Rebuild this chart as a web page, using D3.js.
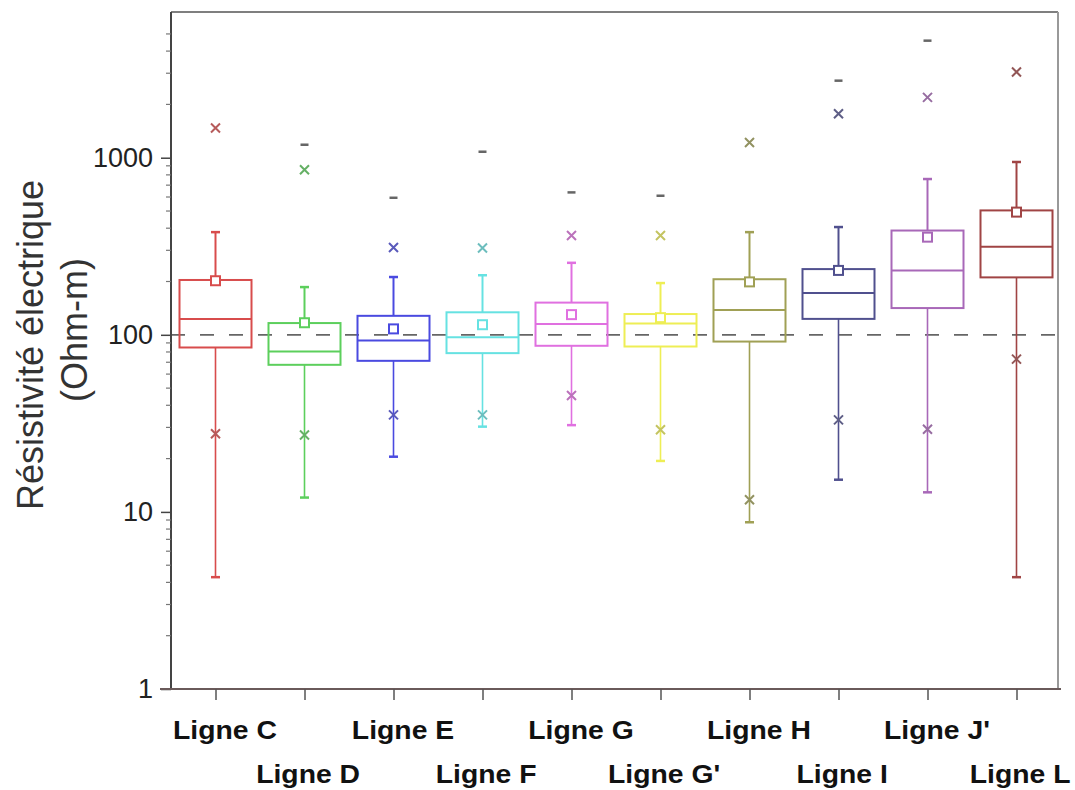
<!DOCTYPE html>
<html><head><meta charset="utf-8">
<script src="https://cdn.jsdelivr.net/npm/d3@7"></script>
<style>body{margin:0;background:#fff}svg{display:block}</style>
</head><body>
<script>
const categories = ["Ligne C","Ligne D","Ligne E","Ligne F","Ligne G","Ligne G'","Ligne H","Ligne I","Ligne J'","Ligne L"];
const colors = ["#d84c4c","#5ccf5c","#4a4ae0","#66e2e2","#e070e0","#eeee55","#a0a055","#50508e","#a868b8","#a04444"];
const maxVals = [null,1184,594,1081,637,610,null,2723,4581,null];
const upperX = [1472,856,311,309,364,364,1220,1773,2191,3049];
const upperCap = [380,186,212,217,255,196,380,406,758,946];
const q3 = [204,116.5,128,134,152,131,206,235,388,504];
const median = [123,80.5,93,97,115,116,138,172,231,314];
const q1 = [84.8,67.7,71.3,78.8,86.7,85.9,91.6,123,141.6,211];
const means = [202,117,108,114,130,125,199,231,356,493];
const lowerX = [27.6,27.2,35.3,35.3,45.4,29.1,11.7,33.1,29.3,72.9];
const lowerCap = [4.28,12.05,20.5,30.3,30.9,19.4,8.74,15.2,12.9,4.28];
const majorTicks = [1,10,100,1000];
const refValue = 100;
const yTitle = ["Résistivité électrique","(Ohm-m)"];

const W=1075,H=790;
const L=171,R=1061,T=12,B=689;
const svg=d3.select("body").append("svg").attr("width",W).attr("height",H);
const x=d3.scalePoint().domain(categories).range([L,R]).padding(0.5);
const y=d3.scaleLog().domain([1,6650]).range([B,T]);
const data=categories.map((c,i)=>({c,i,col:colors[i],max:maxVals[i],ux:upperX[i],uc:upperCap[i],q3:q3[i],med:median[i],q1:q1[i],mean:means[i],lx:lowerX[i],lc:lowerCap[i]}));

// reference dashed line
svg.append("line").attr("x1",L).attr("x2",R-3).attr("y1",y(refValue)).attr("y2",y(refValue))
  .attr("stroke","#666").attr("stroke-width",1.8).attr("stroke-dasharray","14,15");

const bw=72, cap=9;
const g=svg.selectAll("g.box").data(data).join("g").attr("class","box");
// whiskers
g.append("line").attr("x1",d=>x(d.c)).attr("x2",d=>x(d.c)).attr("y1",d=>y(d.q3)).attr("y2",d=>y(d.uc)).attr("stroke",d=>d.col).attr("stroke-width",2);
g.append("line").attr("x1",d=>x(d.c)).attr("x2",d=>x(d.c)).attr("y1",d=>y(d.q1)).attr("y2",d=>y(d.lc)).attr("stroke",d=>d.col).attr("stroke-width",1.6);
g.append("line").attr("x1",d=>x(d.c)-cap/2).attr("x2",d=>x(d.c)+cap/2).attr("y1",d=>y(d.uc)).attr("y2",d=>y(d.uc)).attr("stroke",d=>d.col).attr("stroke-width",2.5);
g.append("line").attr("x1",d=>x(d.c)-cap/2).attr("x2",d=>x(d.c)+cap/2).attr("y1",d=>y(d.lc)).attr("y2",d=>y(d.lc)).attr("stroke",d=>d.col).attr("stroke-width",2.5);
// box
g.append("rect").attr("x",d=>x(d.c)-bw/2).attr("width",bw).attr("y",d=>y(d.q3)).attr("height",d=>y(d.q1)-y(d.q3))
  .attr("fill","none").attr("stroke",d=>d.col).attr("stroke-width",2);
g.append("line").attr("x1",d=>x(d.c)-bw/2).attr("x2",d=>x(d.c)+bw/2).attr("y1",d=>y(d.med)).attr("y2",d=>y(d.med)).attr("stroke",d=>d.col).attr("stroke-width",2);
// mean square
g.append("rect").attr("x",d=>x(d.c)-4.5).attr("y",d=>y(d.mean)-4.5).attr("width",9).attr("height",9)
  .attr("fill","#fff").attr("stroke",d=>d.col).attr("stroke-width",2);
// max dash
g.filter(d=>d.max!=null).append("line").attr("x1",d=>x(d.c)-4).attr("x2",d=>x(d.c)+4).attr("y1",d=>y(d.max)).attr("y2",d=>y(d.max)).attr("stroke","#666").attr("stroke-width",2.5);
// X markers
const xm=(sel,key)=>sel.append("path").attr("d",d=>{const cx=x(d.c),cy=y(d[key]),s=4.5;return `M${cx-s},${cy-s}L${cx+s},${cy+s}M${cx-s},${cy+s}L${cx+s},${cy-s}`;})
  .attr("stroke",d=>d3.interpolateRgb(d.col,"#777")(0.35)).attr("stroke-width",2).attr("fill","none");
xm(g,"ux"); xm(g,"lx");

// frame
svg.append("line").attr("x1",L).attr("x2",1058).attr("y1",T).attr("y2",T).attr("stroke","#555").attr("stroke-width",1.5);
svg.append("line").attr("x1",1058).attr("x2",1058).attr("y1",T).attr("y2",B).attr("stroke","#999").attr("stroke-width",2);
// y axis
const minor=[];
for(let e=0;e<4;e++)for(let k=2;k<=9;k++){const v=k*Math.pow(10,e);if(v<=5000)minor.push(v);}
const ya=svg.append("g").attr("transform",`translate(${L},0)`).call(d3.axisLeft(y).tickValues(majorTicks).tickFormat(d3.format("d")).tickSize(10).tickPadding(8));
ya.select(".domain").attr("stroke","#444").attr("stroke-width",2).attr("d",`M0,${T}V${B}`);
ya.selectAll(".tick line").attr("stroke","#444").attr("stroke-width",1.5);
ya.selectAll("text").attr("font-family","Liberation Sans, Arial, sans-serif").attr("font-size",27).attr("fill","#222");
svg.append("g").attr("transform",`translate(${L},0)`).selectAll("line").data(minor).join("line")
  .attr("x1",-5).attr("x2",0).attr("y1",d=>y(d)).attr("y2",d=>y(d)).attr("stroke","#777").attr("stroke-width",1.2);
// x axis
const xa=svg.append("g").attr("transform",`translate(0,${B})`).call(d3.axisBottom(x).tickSize(11).tickFormat(""));
xa.select(".domain").attr("stroke","#6a5a5a").attr("stroke-width",2).attr("d",`M160,0H${R}`);
xa.selectAll(".tick line").attr("stroke","#555").attr("stroke-width",1.5);
svg.append("g").selectAll("text").data(categories).join("text")
  .attr("transform",(d,i)=>`translate(${x(d)+(i%2===0?9.5:3.6)},${i%2===0?739:783}) scale(1.09,1)`).attr("text-anchor","middle")
  .attr("font-family","Liberation Sans, Arial, sans-serif").attr("font-weight","bold").attr("font-size",26).attr("fill","#111")
  .text(d=>d);
// y title
const yt=svg.append("text").attr("transform","rotate(-90)").attr("text-anchor","middle")
  .attr("font-family","Liberation Sans, Arial, sans-serif").attr("font-size",36).attr("fill","#333");
yt.selectAll("tspan").data(yTitle).join("tspan").attr("x",(d,i)=>i===0?-345:-330).attr("y",(d,i)=>i===0?43:87).text(d=>d);
</script>
</body></html>
